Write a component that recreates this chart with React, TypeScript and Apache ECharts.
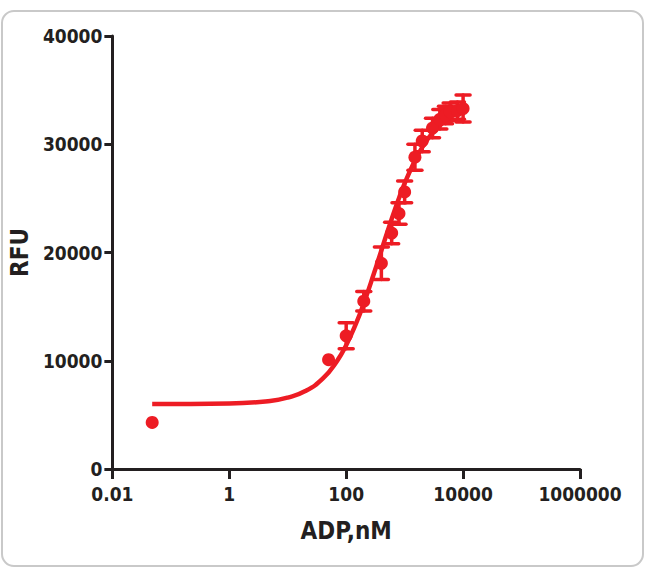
import React, { useEffect, useRef } from "react";
import * as echarts from "echarts";

// Tick labels of the logarithmic x axis (every two decades)
const xTickLabels = ["0.01", "1", "100", "10000", "1000000"];

// Measured points: ADP concentration (nM), mean RFU, error (SD)
const concentrations = [0.048, 50, 100, 200, 400, 600, 800, 1000, 1500, 2000, 3000, 4000, 5000, 6000, 8000, 10000];
const rfuMean = [4300, 10100, 12300, 15500, 19000, 21800, 23600, 25600, 28800, 30300, 31500, 32300, 32700, 33000, 33100, 33300];
const rfuErr = [0, 0, 1200, 900, 1500, 1000, 1000, 1000, 1200, 1000, 900, 900, 800, 800, 800, 1250];

// Fitted dose-response curve
const fitX = [0.048, 1, 5, 10, 20, 40, 70, 100, 150, 200, 300, 400, 600, 800, 1000, 1500, 2000, 3000, 5000, 7000, 10000];
const fitY = [6000, 6055, 6290, 6600, 7200, 8370, 9990, 11440, 13540, 15300, 18100, 20190, 23100, 25020, 26380, 28500, 29710, 31030, 32180, 32690, 33090];

const RED = "#ed1c24";
const INK = "#231f20";
const FONT = "'Liberation Sans Narrow', 'DejaVu Sans Condensed', 'Liberation Sans', Arial, sans-serif";

export default function App() {
  const ref = useRef<HTMLDivElement>(null);

  useEffect(() => {
    if (!ref.current) return;
    const chart = echarts.init(ref.current, undefined, { renderer: "svg" });

    const pointData = concentrations.map((c, i) => [c, rfuMean[i]]);
    const errData = concentrations
      .map((c, i) => [c, rfuMean[i], rfuErr[i]])
      .filter((d) => d[2] > 0);
    const fitData = fitX.map((x, i) => [x, fitY[i]]);

    chart.setOption({
      animation: false,
      backgroundColor: "#ffffff",
      graphic: [
        {
          type: "rect",
          shape: { x: 2, y: 11, width: 641, height: 555, r: 12 },
          style: { fill: "none", stroke: "#c9c9c9", lineWidth: 2 },
          z: -1,
        },
      ],
      grid: { left: 111, right: 65, top: 36, bottom: 100, containLabel: false },
      xAxis: {
        type: "log",
        logBase: 10,
        min: 0.01,
        max: 1000000,
        interval: 2,
        name: "ADP,nM",
        nameLocation: "middle",
        nameGap: 50,
        nameTextStyle: { color: INK, fontSize: 24, fontWeight: "bold", fontFamily: FONT },
        axisLine: { show: true, lineStyle: { color: INK, width: 3 } },
        axisTick: { show: true, length: 10, lineStyle: { color: INK, width: 3 } },
        minorTick: { show: false },
        splitLine: { show: false },
        axisLabel: {
          color: INK,
          fontSize: 19,
          fontWeight: "bold",
          fontFamily: FONT,
          margin: 15,
          formatter: (v: number) => {
            const e = Math.round(Math.log10(v));
            const idx = (e + 2) / 2;
            return Number.isInteger(idx) && xTickLabels[idx] ? xTickLabels[idx] : "";
          },
        },
      },
      yAxis: {
        type: "value",
        min: 0,
        max: 40000,
        interval: 10000,
        name: "RFU",
        nameLocation: "middle",
        nameRotate: 90,
        nameGap: 80,
        nameTextStyle: { color: INK, fontSize: 24, fontWeight: "bold", fontFamily: FONT },
        axisLine: { show: true, lineStyle: { color: INK, width: 3 } },
        axisTick: { show: true, length: 8, lineStyle: { color: INK, width: 3 } },
        splitLine: { show: false },
        axisLabel: {
          color: INK,
          fontSize: 19,
          fontWeight: "bold",
          fontFamily: FONT,
          margin: 10,
          formatter: (v: number) => String(v),
        },
      },
      series: [
        {
          type: "line",
          data: fitData,
          smooth: true,
          showSymbol: false,
          symbol: "none",
          lineStyle: { color: RED, width: 4.5 },
          z: 2,
        },
        {
          type: "custom",
          data: errData,
          z: 3,
          renderItem: (params: any, api: any) => {
            const x = api.value(0);
            const y = api.value(1);
            const e = api.value(2);
            const top = api.coord([x, y + e]);
            const bot = api.coord([x, y - e]);
            const hw = 7;
            const st = { stroke: RED, lineWidth: 3.5, lineCap: "round" };
            return {
              type: "group",
              children: [
                { type: "line", shape: { x1: top[0], y1: top[1], x2: bot[0], y2: bot[1] }, style: st },
                { type: "line", shape: { x1: top[0] - hw, y1: top[1], x2: top[0] + hw, y2: top[1] }, style: st },
                { type: "line", shape: { x1: bot[0] - hw, y1: bot[1], x2: bot[0] + hw, y2: bot[1] }, style: st },
              ],
            };
          },
        },
        {
          type: "scatter",
          data: pointData,
          symbol: "circle",
          symbolSize: 13,
          itemStyle: { color: RED, opacity: 1 },
          z: 4,
        },
      ],
    });

    return () => chart.dispose();
  }, []);

  return (
    <div
      ref={ref}
      style={{ position: "fixed", left: 0, top: 0, width: 645, height: 569, background: "#fff" }}
    />
  );
}
